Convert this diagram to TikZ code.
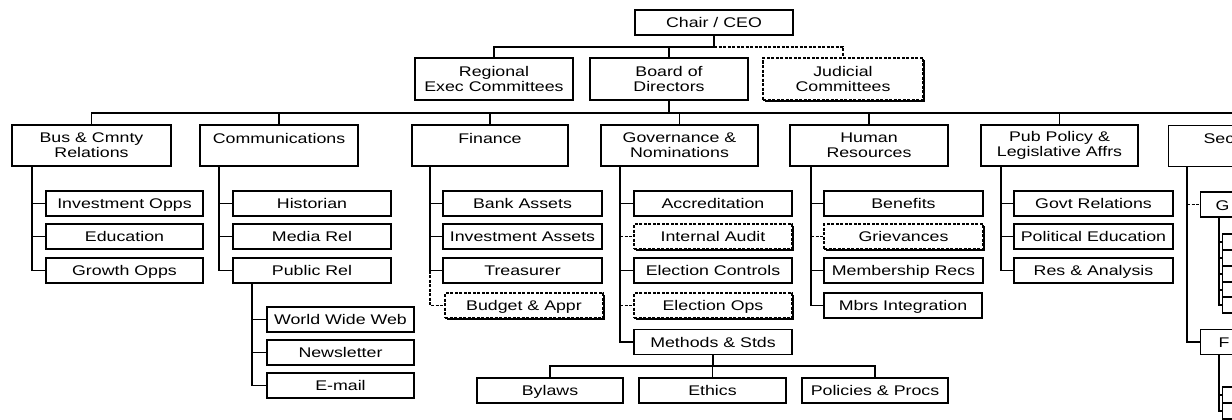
\documentclass[tikz,border=0pt]{standalone}
\usepackage{fontspec}
\setmainfont[FakeStretch=1.27]{Liberation Sans}
\usetikzlibrary{shadows}
\begin{document}
\begin{tikzpicture}[x=1pt,y=-1pt,line width=1.1pt,
  box/.style={draw, fill=white, inner sep=0pt, align=center,
    font=\fontsize{14}{15}\selectfont},
  top/.style={box, minimum width=158pt, minimum height=42pt},
  dept/.style={box, minimum width=158pt, minimum height=41pt},
  sub/.style={box, text height=10pt, text depth=0pt, minimum width=157pt, minimum height=25pt},
  tiny/.style={draw, fill=white, inner sep=0pt, minimum width=40pt, minimum height=16pt, anchor=west},
  dbox/.style={dash pattern=on 3pt off 1.5pt,
    drop shadow={shadow xshift=1.8pt, shadow yshift=-1.8pt, opacity=1, fill=black}},
  sbox/.style={drop shadow={shadow xshift=1.4pt, shadow yshift=-1.4pt, opacity=1, fill=black}},
  dline/.style={dash pattern=on 3pt off 1.5pt}]
\useasboundingbox (0,0) rectangle (1232,420);
\clip (0,0) rectangle (1232,420);
% top level
\node[sub, minimum width=158pt] (ceo) at (714,22.5) {Chair / CEO};
\node[top, sbox] (regional) at (494,79) {Regional\\Exec Committees};
\node[top] (board) at (669,79) {Board of\\Directors};
\node[top, minimum width=160pt, dbox] (judicial) at (843,79) {Judicial\\Committees};
% departments
\node[dept, minimum width=159pt] (bus) at (91.5,145.5) {Bus \& Cmnty\\Relations};
\node[dept] (comm) at (279,145.5) {Communications\\\phantom{C}};
\node[dept, minimum width=156pt] (fin) at (490,145.5) {Finance\\\phantom{C}};
\node[dept, minimum width=157pt] (gov) at (679.5,145.5) {Governance \&\\Nominations};
\node[dept] (hr) at (869,145.5) {Human\\Resources};
\node[dept, minimum width=157pt] (pub) at (1059.5,145.5) {Pub Policy \&\\Legislative Affrs};
\node[dept, anchor=north west] (sec) at (1168,125) {};
\node[anchor=base west, inner sep=0pt, font=\fontsize{14}{15}\selectfont] (sect) at (1203,143) {Sec};
% coordinates
\coordinate (bar1) at (0,47);
\coordinate (bar2) at (0,113);
\coordinate (bar3) at (0,366);
\coordinate (busv) at (32,0);
\coordinate (commv) at (219,0);
\coordinate (prv) at (252,0);
\coordinate (finv) at (430,0);
\coordinate (govv) at (620,0);
\coordinate (hrv) at (811,0);
\coordinate (pubv) at (1001,0);
\coordinate (secv) at (1187,0);
\coordinate (gv) at (1219,0);
% Bus & Cmnty
\node[sub] (invopp) at (124.5,203.5) {Investment Opps};
\node[sub] (edu) at (124.5,236.5) {Education};
\node[sub] (growth) at (124.5,270.5) {Growth Opps};
% Communications
\node[sub, minimum width=158pt] (hist) at (312,203.5) {Historian};
\node[sub, minimum width=158pt] (media) at (312,236.5) {Media Rel};
\node[sub, minimum width=158pt] (pubrel) at (312,270.5) {Public Rel};
\node[sub, minimum width=147pt] (www) at (340.5,319.5) {World Wide Web};
\node[sub, minimum width=147pt] (news) at (340.5,352.5) {Newsletter};
\node[sub, minimum width=147pt] (email) at (340.5,385.5) {E-mail};
% Finance
\node[sub, minimum width=159pt] (bank) at (522.5,203.5) {Bank Assets};
\node[sub, minimum width=159pt] (invas) at (522.5,236.5) {Investment Assets};
\node[sub, minimum width=159pt] (treas) at (522.5,270.5) {Treasurer};
\node[sub, minimum width=158pt, dbox] (budget) at (524,305.5) {Budget \& Appr};
% Governance
\node[sub, minimum width=158pt] (accr) at (713,203.5) {Accreditation};
\node[sub, minimum width=158pt, dbox] (audit) at (713,236.5) {Internal Audit};
\node[sub, minimum width=158pt] (elcon) at (713,270.5) {Election Controls};
\node[sub, minimum width=158pt, dbox] (elops) at (713,305.5) {Election Ops};
\node[sub, minimum width=158pt] (methods) at (713,342) {Methods \& Stds};
\node[sub, minimum width=146pt] (bylaws) at (550,390.5) {Bylaws};
\node[sub, minimum width=147pt] (ethics) at (712.5,390.5) {Ethics};
\node[sub, minimum width=146pt] (policies) at (875,390.5) {Policies \& Procs};
% Human Resources
\node[sub, minimum width=159pt] (benef) at (903.5,203.5) {Benefits};
\node[sub, minimum width=159pt, dbox] (griev) at (903.5,236.5) {Grievances};
\node[sub, minimum width=159pt] (memrec) at (903.5,270.5) {Membership Recs};
\node[sub, minimum width=158pt] (mbrint) at (903,305.5) {Mbrs Integration};
% Pub Policy
\node[sub, minimum width=159pt] (govrel) at (1093.5,203.5) {Govt Relations};
\node[sub, minimum width=159pt] (poled) at (1093.5,236.5) {Political Education};
\node[sub, minimum width=159pt] (resan) at (1093.5,270.5) {Res \& Analysis};
% Sec
\node[sub, anchor=west] (gbox) at (1200,204.5) {};
\node[anchor=base west, inner sep=0pt, font=\fontsize{14}{15}\selectfont] (gt) at (1215,210) {G};
\node[sub, anchor=west] (fbox) at (1200,342) {};
\node[anchor=base west, inner sep=0pt, font=\fontsize{14}{15}\selectfont] (ft) at (1218,347.5) {F};
\node[tiny] (g1) at (1222,242) {};
\node[tiny] (g2) at (1222,258) {};
\node[tiny] (g3) at (1222,274) {};
\node[tiny] (g4) at (1222,290) {};
\node[tiny] (g5) at (1222,305) {};
\node[tiny] (f1) at (1222,395) {};
\node[tiny] (f2) at (1222,411) {};
% top connectors
\draw (ceo.south) -- (ceo.south |- bar1);
\draw (regional.north) |- (ceo.south |- bar1);
\draw (board.north) -- (board.north |- bar1);
\draw[dline] (ceo.south |- bar1) -| (judicial.north);
\draw (board.south) -- (board.south |- bar2);
\draw (bus.north) |- (sec.north |- bar2) -- (sec.north);
\foreach \n in {comm,fin,gov,hr,pub} \draw (\n.north) -- (\n.north |- bar2);
% Bus
\draw (busv |- bus.south) |- (growth.west);
\draw (busv |- invopp.west) -- (invopp.west);
\draw (busv |- edu.west) -- (edu.west);
% Comm
\draw (commv |- comm.south) |- (pubrel.west);
\draw (commv |- hist.west) -- (hist.west);
\draw (commv |- media.west) -- (media.west);
\draw (prv |- pubrel.south) |- (email.west);
\draw (prv |- www.west) -- (www.west);
\draw (prv |- news.west) -- (news.west);
% Finance
\draw (finv |- fin.south) |- (treas.west);
\draw (finv |- bank.west) -- (bank.west);
\draw (finv |- invas.west) -- (invas.west);
\draw[dline] (finv |- treas.west) |- (budget.west);
% Governance
\draw (govv |- gov.south) |- (methods.west);
\draw (govv |- accr.west) -- (accr.west);
\draw[dline] (govv |- audit.west) -- (audit.west);
\draw (govv |- elcon.west) -- (elcon.west);
\draw[dline] (govv |- elops.west) -- (elops.west);
\draw (methods.south) -- (methods.south |- bar3);
\draw (bylaws.north) |- (policies.north |- bar3) -- (policies.north);
\draw (ethics.north) -- (ethics.north |- bar3);
% HR
\draw (hrv |- hr.south) |- (mbrint.west);
\draw (hrv |- benef.west) -- (benef.west);
\draw[dline] (hrv |- griev.west) -- (griev.west);
\draw (hrv |- memrec.west) -- (memrec.west);
% Pub
\draw (pubv |- pub.south) |- (resan.west);
\draw (pubv |- govrel.west) -- (govrel.west);
\draw (pubv |- poled.west) -- (poled.west);
% Sec
\draw (secv |- sec.south) |- (fbox.west);
\draw[dline] (secv |- gbox.west) -- (gbox.west);
\draw (gv |- gbox.south) |- (g5.west);
\foreach \n in {g1,g2,g3,g4} \draw (gv |- \n.west) -- (\n.west);
\draw (gv |- fbox.south) |- (f2.west);
\draw (gv |- f1.west) -- (f1.west);
\end{tikzpicture}
\end{document}
